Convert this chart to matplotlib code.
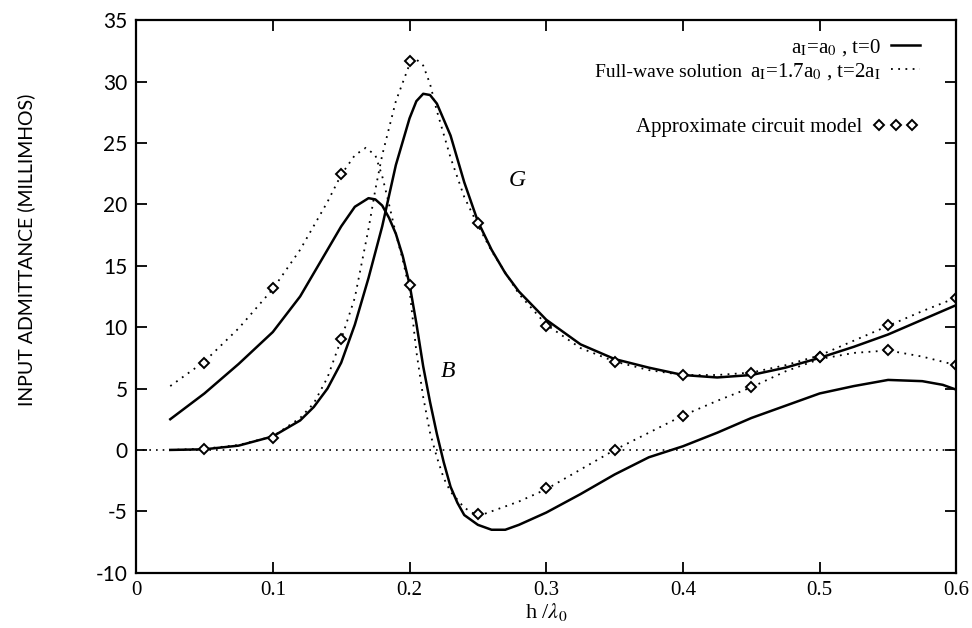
import numpy as np
import matplotlib
matplotlib.use('Agg')
import matplotlib.pyplot as plt
from matplotlib.lines import Line2D

plt.rcParams['font.family'] = 'Liberation Serif'
plt.rcParams['mathtext.fontset'] = 'stix'

# Full-wave solution, a1 = a0, t = 0 (solid)
g0_x = [0.025, 0.05, 0.075, 0.1, 0.12, 0.13, 0.14, 0.15, 0.16, 0.17, 0.18, 0.19, 0.2, 0.205,
        0.21, 0.215, 0.22, 0.23, 0.24, 0.25, 0.26, 0.27, 0.28, 0.3, 0.325, 0.35, 0.375, 0.4,
        0.425, 0.45, 0.475, 0.5, 0.525, 0.55, 0.575, 0.6]
g0_y = [0.0, 0.05, 0.35, 1.1, 2.4, 3.5, 5.0, 7.1, 10.2, 14.0, 18.2, 23.2, 27.0, 28.4,
        29.0, 28.9, 28.2, 25.6, 21.8, 18.6, 16.3, 14.4, 12.9, 10.6, 8.6, 7.4, 6.7, 6.1,
        5.9, 6.1, 6.7, 7.5, 8.4, 9.4, 10.6, 11.8]

b0_x = [0.025, 0.05, 0.075, 0.1, 0.12, 0.14, 0.15, 0.16, 0.17, 0.175, 0.18, 0.185, 0.19, 0.195,
        0.2, 0.205, 0.21, 0.215, 0.22, 0.225, 0.23, 0.235, 0.24, 0.25, 0.26, 0.27, 0.28, 0.29,
        0.3, 0.325, 0.35, 0.375, 0.4, 0.425, 0.45, 0.475, 0.5, 0.525, 0.55, 0.575, 0.59, 0.6]
b0_y = [2.5, 4.6, 7.0, 9.6, 12.5, 16.3, 18.2, 19.8, 20.5, 20.4, 19.9, 18.9, 17.6, 15.8,
        13.5, 10.3, 6.8, 3.9, 1.3, -1.0, -3.0, -4.3, -5.3, -6.1, -6.5, -6.5, -6.1, -5.6,
        -5.1, -3.6, -2.0, -0.6, 0.3, 1.4, 2.6, 3.6, 4.6, 5.2, 5.7, 5.6, 5.3, 4.9]

# Full-wave solution, a1 = 1.7 a0, t = 2 a1 (dotted)
g1_x = [0.025, 0.05, 0.075, 0.1, 0.12, 0.13, 0.14, 0.15, 0.16, 0.17, 0.175, 0.18, 0.19, 0.2,
        0.205, 0.21, 0.215, 0.22, 0.23, 0.24, 0.25, 0.26, 0.28, 0.3, 0.325, 0.35, 0.375, 0.4,
        0.425, 0.45, 0.475, 0.5, 0.525, 0.55, 0.575, 0.6]
g1_y = [0.0, 0.1, 0.4, 1.1, 2.6, 3.8, 5.9, 9.0, 12.4, 18.0, 21.2, 24.0, 28.4, 31.4,
        31.8, 31.3, 29.8, 27.6, 23.8, 20.6, 18.3, 16.2, 12.7, 10.2, 8.3, 7.2, 6.5, 6.1,
        6.1, 6.3, 6.9, 7.7, 8.9, 10.1, 11.3, 12.4]

b1_x = [0.025, 0.05, 0.075, 0.1, 0.12, 0.14, 0.15, 0.16, 0.168, 0.175, 0.18, 0.185, 0.19, 0.195,
        0.2, 0.205, 0.21, 0.215, 0.22, 0.225, 0.23, 0.24, 0.25, 0.26, 0.28, 0.3, 0.325, 0.35,
        0.375, 0.4, 0.425, 0.45, 0.475, 0.5, 0.525, 0.55, 0.575, 0.6]
b1_y = [5.2, 7.2, 9.9, 13.1, 16.3, 20.2, 22.4, 24.0, 24.6, 24.0, 22.3, 20.0, 17.6, 15.5,
        13.0, 8.0, 4.3, 1.4, -0.6, -2.3, -3.4, -4.7, -5.4, -5.0, -4.2, -3.2, -1.6, 0.0,
        1.4, 2.8, 4.0, 5.1, 6.4, 7.4, 7.9, 8.1, 7.6, 6.9]

# Approximate circuit model (diamonds)
model_x = [0.05, 0.1, 0.15, 0.2, 0.25, 0.3, 0.35, 0.4, 0.45, 0.5, 0.55, 0.6]
model_g = [0.1, 1.0, 9.0, 31.7, 18.5, 10.1, 7.2, 6.1, 6.3, 7.6, 10.2, 12.4]
model_b = [7.1, 13.2, 22.5, 13.4, -5.2, -3.1, 0.0, 2.8, 5.1, 7.6, 8.1, 6.9]

dot = (0, (1, 3))

fig = plt.figure(figsize=(9.72, 6.28), dpi=100)
ax = fig.add_axes([0.14, 0.088, 0.844, 0.88])

ax.axhline(0, color='black', lw=1.2, ls=dot)
ax.plot(g0_x, g0_y, color='black', lw=1.8)
ax.plot(b0_x, b0_y, color='black', lw=1.8)
ax.plot(g1_x, g1_y, color='black', lw=1.3, ls=dot)
ax.plot(b1_x, b1_y, color='black', lw=1.3, ls=dot)
mk = dict(ls='none', marker='D', ms=5.5, mfc='white', mec='black', mew=1.4)
ax.plot(model_x, model_g, **mk)
ax.plot(model_x, model_b, **mk)

ax.text(0.279, 21.9, 'G', fontsize=17, style='italic', ha='center', va='center')
ax.text(0.228, 6.4, 'B', fontsize=17, style='italic', ha='center', va='center')

ax.set_xlim(0, 0.6)
ax.set_ylim(-10, 35)
ax.set_xticks(np.arange(0, 0.61, 0.1))
ax.set_xticklabels(['0', '0.1', '0.2', '0.3', '0.4', '0.5', '0.6'], fontsize=15)
ax.set_yticks(np.arange(-10, 36, 5))
ax.set_yticklabels([str(v) for v in range(-10, 36, 5)], fontsize=15, family='Lato')
ax.tick_params(direction='in', length=8, width=1.3, top=True, right=True, pad=6)
for s in ax.spines.values():
    s.set_linewidth(1.6)

ax.set_xlabel(r'h /$\lambda_0$', fontsize=16, labelpad=1)
ax.set_ylabel('INPUT ADMITTANCE (MILLIMHOS)', fontsize=14, family='Lato')
ax.yaxis.set_label_coords(-0.123, 0.584)

h1 = [Line2D([], [], color='black', lw=1.8), Line2D([], [], color='black', lw=1.3, ls=dot)]
leg1 = ax.legend(h1, [r'a$_{\rm I}$=a$_{\rm 0}$ , t=0', r'a$_{\rm I}$=1.7a$_{\rm 0}$ , t=2a$_{\rm I}$'],
                 loc='upper right', bbox_to_anchor=(0.956, 0.97), frameon=False, markerfirst=False,
                 fontsize=15, handlelength=1.4, handletextpad=0.5, labelspacing=0.15,
                 borderpad=0, borderaxespad=0)
ax.add_artist(leg1)
h2 = [Line2D([], [], **mk)]
ax.legend(h2, ['Approximate circuit model'], loc='upper right', bbox_to_anchor=(0.954, 0.824),
          frameon=False, markerfirst=False, numpoints=3, fontsize=15, handlelength=2.2,
          handletextpad=0.5, borderpad=0, borderaxespad=0)
ax.text(0.56, 0.905, 'Full-wave solution', transform=ax.transAxes, fontsize=14, va='center')

fig.savefig('out.png', dpi=100)
